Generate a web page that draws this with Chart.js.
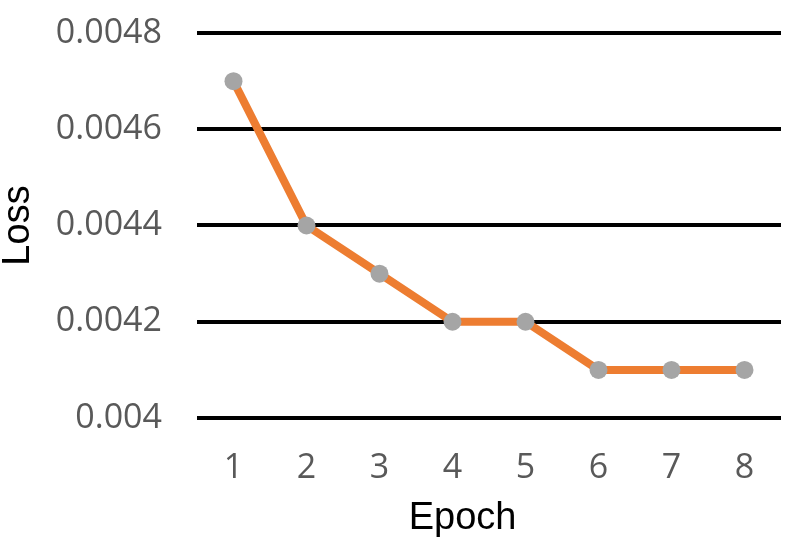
<!DOCTYPE html>
<html>
<head>
<meta charset="utf-8">
<script src="https://cdn.jsdelivr.net/npm/chart.js@4/dist/chart.umd.min.js"></script>
<style>
  html, body { margin: 0; padding: 0; background: #fff; }
  #wrap { width: 804px; height: 540px; }
</style>
</head>
<body>
<div id="wrap"><canvas id="lossChart" width="804" height="540"></canvas></div>
<script>
var epochs = ['1', '2', '3', '4', '5', '6', '7', '8'];
var loss = [0.0047, 0.0044, 0.0043, 0.0042, 0.0042, 0.0041, 0.0041, 0.0041];
var yTicks = [0.004, 0.0042, 0.0044, 0.0046, 0.0048];

var tickFont = { family: '"Open Sans", sans-serif', size: 34 };
var titleFont = { family: '"Liberation Sans", Arial, sans-serif', size: 38, lineHeight: 1 };

var ctx = document.getElementById('lossChart');
var chart = new Chart(ctx, {
        type: 'line',
        data: {
                labels: epochs,
                datasets: [{
                        label: 'Loss',
                        data: loss,
                        borderColor: '#ED7D31',
                        borderWidth: 8,
                        pointBackgroundColor: '#A5A5A5',
                        pointBorderWidth: 0,
                        pointRadius: 9,
                        pointHoverRadius: 9,
                        tension: 0
                }]
        },
        options: {
                responsive: false,
                animation: false,
                events: [],
                layout: { padding: { top: 33, right: 23, left: 0, bottom: 0 } },
                plugins: { legend: { display: false }, tooltip: { enabled: false } },
                scales: {
                        x: {
                                offset: true,
                                grid: { display: false },
                                border: { display: false },
                                ticks: { color: '#595959', font: tickFont, padding: 22, maxRotation: 0 },
                                // trailing spaces pull the title a bit left of the plot centre, like the original
                                title: { display: true, text: 'Epoch     ', color: '#000', font: titleFont, padding: { top: 0, bottom: 2 } },
                                afterFit: function (scale) { scale.height = 122; }
                        },
                        y: {
                                min: 0.004,
                                max: 0.0048,
                                afterBuildTicks: function (scale) {
                                        scale.ticks = yTicks.map(function (v) { return { value: v }; });
                                },
                                grid: { color: '#000', lineWidth: 4, drawTicks: false },
                                border: { display: false },
                                ticks: {
                                        color: '#595959', font: tickFont, padding: 35,
                                        callback: function (value) { return String(value); }
                                },
                                title: { display: true, text: 'Loss', color: '#000', font: titleFont, padding: { top: 0, bottom: 0 } },
                                afterFit: function (scale) {
                                        scale.width = 197;
                                        // tick padding would otherwise push the plot top down
                                        scale.paddingTop = 0;
                                        scale.paddingBottom = 0;
                                }
                        }
                }
        }
});
</script>
</body>
</html>
